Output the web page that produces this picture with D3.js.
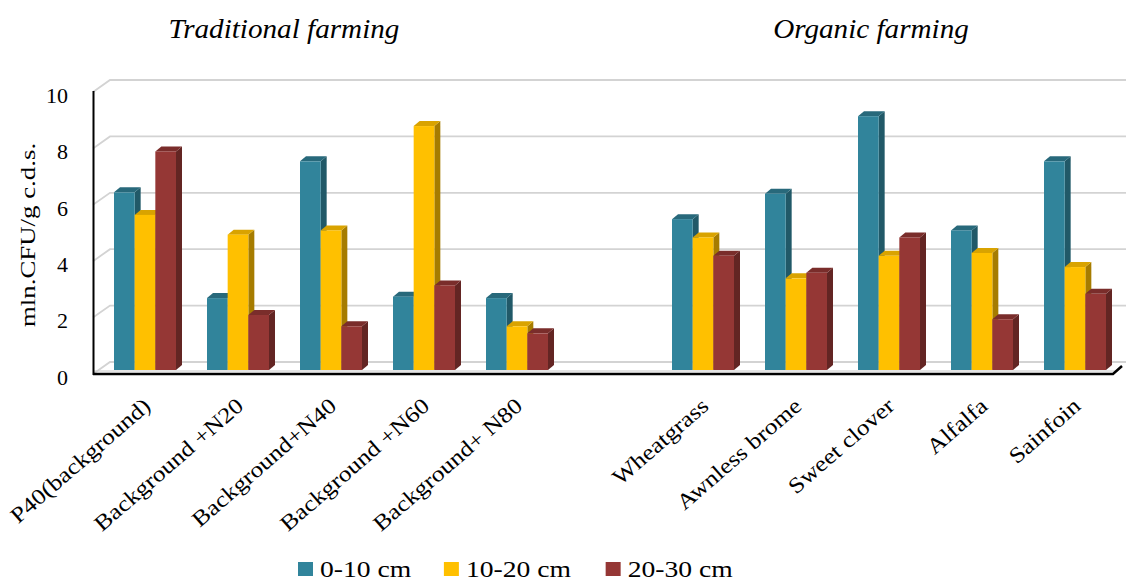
<!DOCTYPE html>
<html>
<head>
<meta charset="utf-8">
<script src="https://d3js.org/d3.v7.min.js"></script>
<style>
  body { margin: 0; background: #fff; }
</style>
</head>
<body>
<svg id="chart" width="1126" height="581"></svg>
<script>
// categories (empty slot separates the two farming systems)
var categories = ["P40(background)", "Background +N20", "Background+N40", "Background +N60", "Background+ N80",
                  "",
                  "Wheatgrass", "Awnless brome", "Sweet clover", "Alfalfa", "Sainfoin"];
var seriesNames = ["0-10 cm", "10-20 cm", "20-30 cm"];

// mln.CFU/g c.d.s.
var depth0_10  = [6.3, 2.55, 7.4, 2.6, 2.55, null, 5.35, 6.25, 9.0, 4.95, 7.4];
var depth10_20 = [5.5, 4.8, 4.95, 8.65, 1.55, null, 4.7, 3.25, 4.05, 4.15, 3.65];
var depth20_30 = [7.75, 1.95, 1.55, 3.0, 1.3, null, 4.05, 3.45, 4.7, 1.8, 2.7];
var yTicks = [0, 2, 4, 6, 8, 10];
var groupTitles = ["Traditional farming", "Organic farming"];

var seriesValues = [depth0_10, depth10_20, depth20_30];
var colors = {
  front: ["#31849b", "#ffc000", "#953735"],
  side:  ["#215968", "#a67c00", "#632523"],
  top:   ["#28697b", "#d9a300", "#7a2d2b"]
};

const svg = d3.select('#chart')
  .style('font-family', '"Liberation Serif", "Times New Roman", serif');

// 3d offsets of the bars and of the back wall
var dx = 6, dy = -5;
var wallDx = 17, wallDy = -12;

const x = d3.scaleBand()
  .domain(categories)
  .range([98.5, 1121.5])
  .paddingInner(1 / 3)
  .paddingOuter(1 / 6);

const xSub = d3.scaleBand()
  .domain(seriesNames)
  .range([0, x.bandwidth()]);

const y = d3.scaleLinear()
  .domain([0, 10])
  .range([370, 88]);

// stretch text a little, the source picture is widened
function stretch(sel, k) {
  sel.each(function() {
    var len = this.getComputedTextLength();
    d3.select(this).attr('textLength', len * k).attr('lengthAdjust', 'spacingAndGlyphs');
  });
}

// back wall gridlines
svg.append('g').selectAll('path')
  .data(yTicks)
  .enter().append('path')
  .attr('d', d => `M93,${y(d) + 4} L${93 + wallDx},${y(d) + 4 + wallDy} L1126,${y(d) + 4 + wallDy}`)
  .attr('fill', 'none')
  .attr('stroke', '#d3d3d3')
  .attr('stroke-width', 1.8);

// y axis labels
svg.append('g').selectAll('text')
  .data(yTicks)
  .enter().append('text')
  .attr('x', 68)
  .attr('y', d => y(d) + 7)
  .attr('dy', '0.35em')
  .attr('text-anchor', 'end')
  .style('font-size', '22px')
  .text(d => d);

// floor
svg.append('line')
  .attr('x1', 93).attr('x2', 1116)
  .attr('y1', 371).attr('y2', 371)
  .attr('stroke', '#c8c8c8').attr('stroke-width', 1);
svg.append('path')
  .attr('d', 'M93,374 L1113,374 L1122,366')
  .attr('fill', 'none')
  .attr('stroke', '#000')
  .attr('stroke-width', 2.5);

// y axis line
svg.append('line')
  .attr('x1', 93.5).attr('x2', 93.5)
  .attr('y1', y(10) + 3).attr('y2', 375)
  .attr('stroke', '#000').attr('stroke-width', 2);

// bars
var bars = [];
categories.forEach((c, i) => {
  seriesNames.forEach((s, j) => {
    var v = seriesValues[j][i];
    if (v != null) bars.push({ cat: c, series: s, j: j, value: v });
  });
});

const barG = svg.append('g');
bars.forEach(d => {
  var x0 = x(d.cat) + xSub(d.series);
  var w = xSub.bandwidth();
  var top = y(d.value), bottom = y(0);
  var g = barG.append('g');
  // right side
  g.append('path')
    .attr('d', `M${x0 + w},${top} L${x0 + w + dx},${top + dy} L${x0 + w + dx},${bottom + dy} L${x0 + w},${bottom} Z`)
    .attr('fill', colors.side[d.j]);
  // top
  g.append('path')
    .attr('d', `M${x0},${top} L${x0 + dx},${top + dy} L${x0 + w + dx},${top + dy} L${x0 + w},${top} Z`)
    .attr('fill', colors.top[d.j]);
  // front
  g.append('rect')
    .attr('x', x0)
    .attr('y', top)
    .attr('width', w)
    .attr('height', bottom - top)
    .attr('fill', colors.front[d.j]);
});

// category labels
svg.append('g').selectAll('text')
  .data(categories.filter(c => c !== ""))
  .enter().append('text')
  .attr('transform', d => `translate(${x(d) + x.bandwidth() / 2 + 7},408) rotate(-41)`)
  .attr('text-anchor', 'end')
  .style('font-size', '22px')
  .text(d => d)
  .call(stretch, 1.16);

// y axis title
svg.append('text')
  .attr('transform', 'translate(35,235) rotate(-90)')
  .attr('text-anchor', 'middle')
  .style('font-size', '22px')
  .text('mln.CFU/g c.d.s.')
  .call(stretch, 1.22);

// group titles
var titleX = [284, 871];
svg.append('g').selectAll('text')
  .data(groupTitles)
  .enter().append('text')
  .attr('x', (d, i) => titleX[i])
  .attr('y', 38)
  .attr('text-anchor', 'middle')
  .style('font-size', '27px')
  .style('font-style', 'italic')
  .text(d => d)
  .call(stretch, 1.08);

// legend
var lx = 298;
const legend = svg.append('g');
seriesNames.forEach((s, j) => {
  legend.append('rect')
    .attr('x', lx).attr('y', 562)
    .attr('width', 15).attr('height', 14)
    .attr('fill', colors.front[j]);
  var t = legend.append('text')
    .attr('x', lx + 22)
    .attr('y', 577)
    .style('font-size', '24px')
    .text(s)
    .call(stretch, 1.15);
  lx = lx + 22 + t.node().getComputedTextLength() * 1.15 + 19;
});
</script>
</body>
</html>
